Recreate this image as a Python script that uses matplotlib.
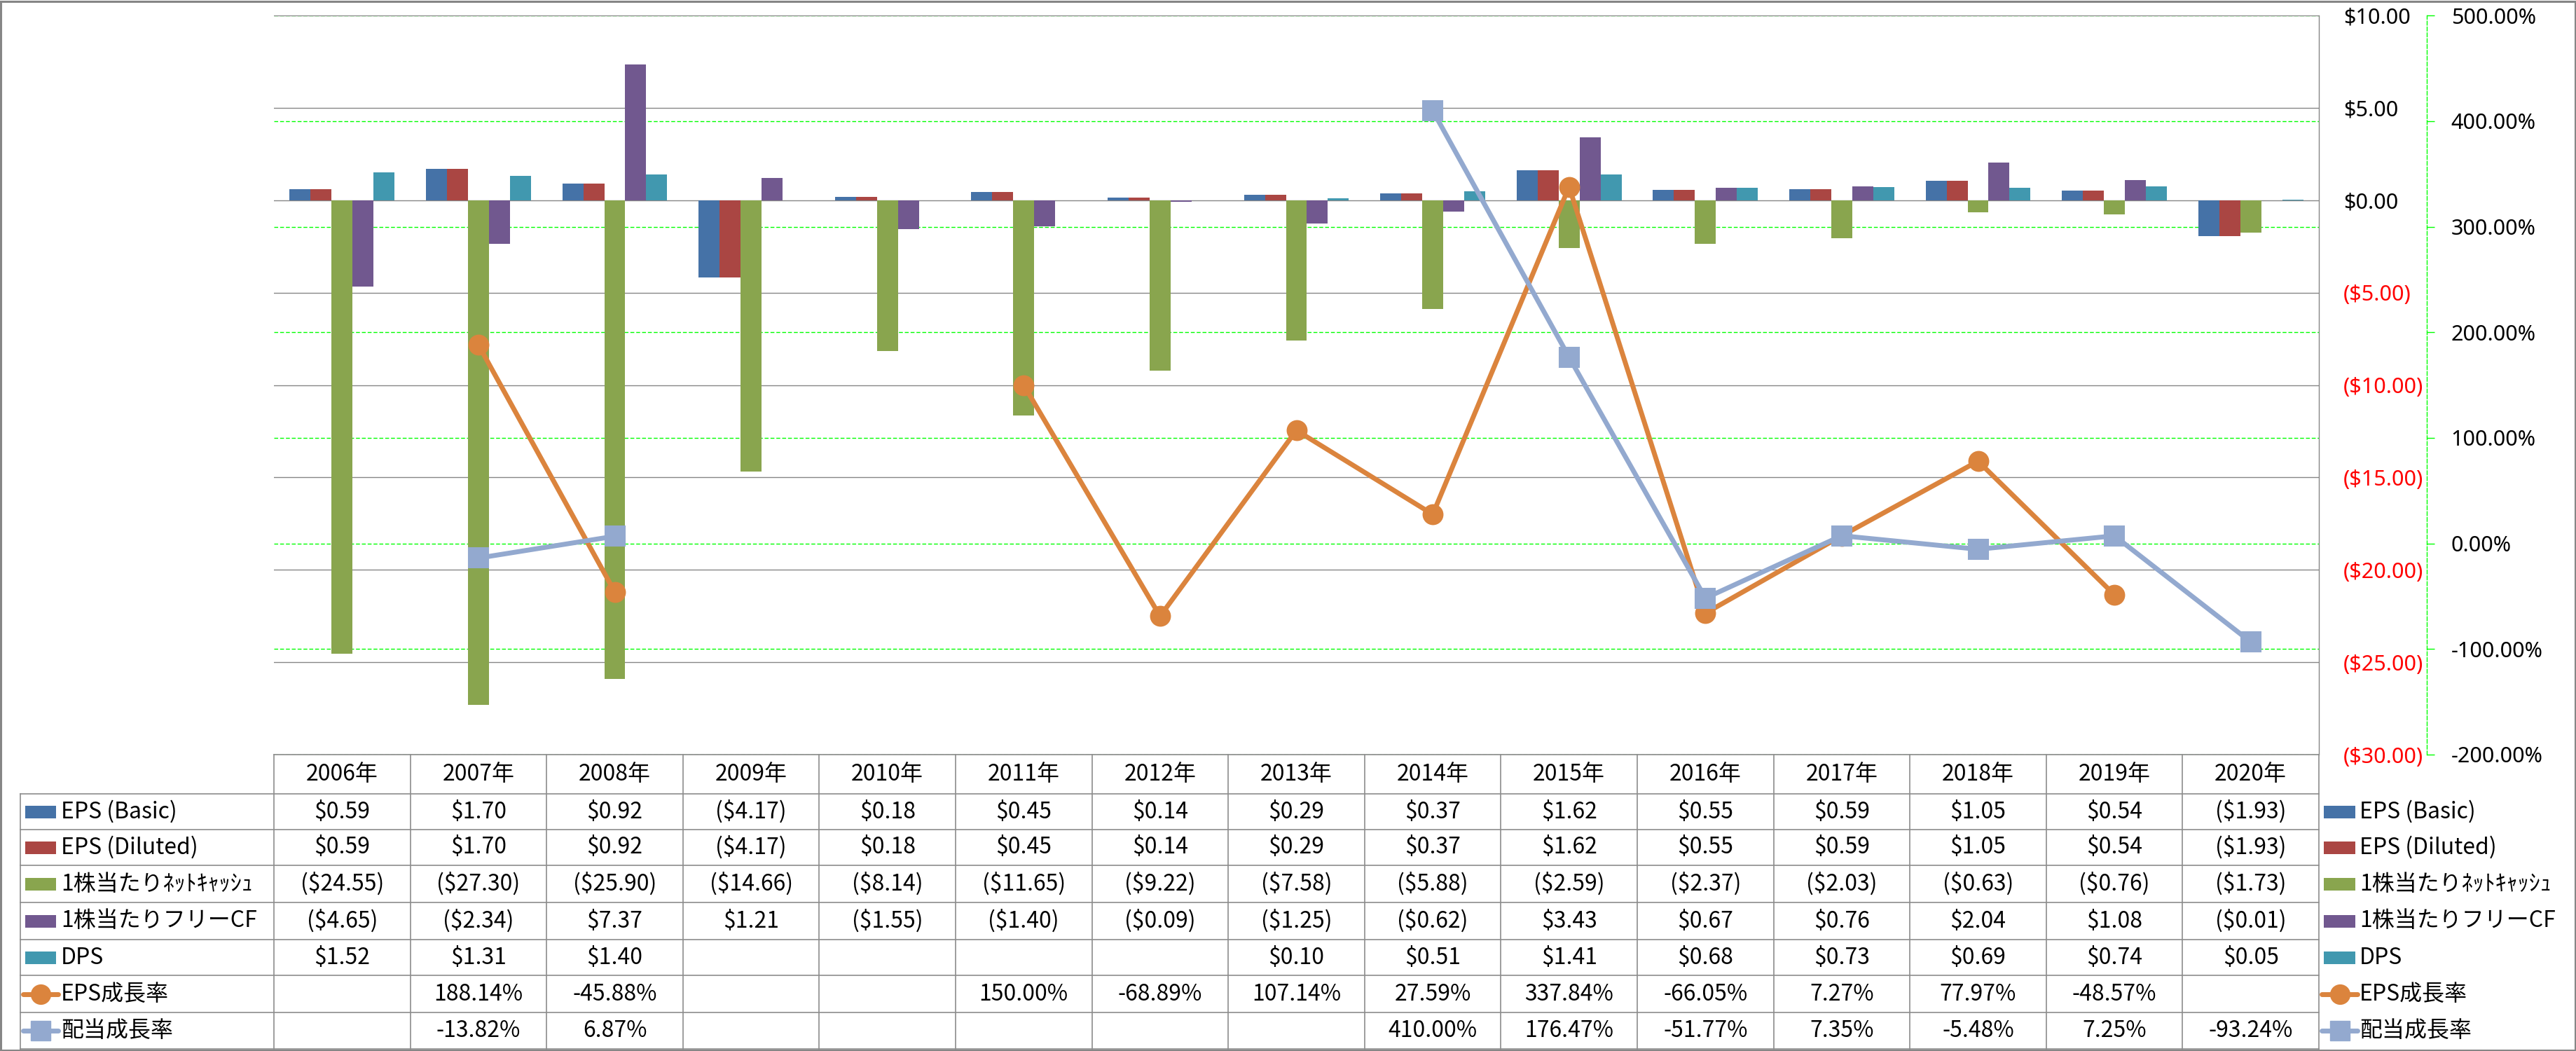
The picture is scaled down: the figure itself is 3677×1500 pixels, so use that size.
import numpy as np
import matplotlib
matplotlib.use('Agg')
import matplotlib.pyplot as plt
from matplotlib.transforms import blended_transform_factory
from matplotlib.patches import Rectangle

nan = np.nan

# ---------------- data ----------------
years = ['2006年', '2007年', '2008年', '2009年', '2010年', '2011年', '2012年', '2013年',
         '2014年', '2015年', '2016年', '2017年', '2018年', '2019年', '2020年']
eps_basic = [0.59, 1.70, 0.92, -4.17, 0.18, 0.45, 0.14, 0.29, 0.37, 1.62, 0.55, 0.59, 1.05, 0.54, -1.93]
eps_diluted = [0.59, 1.70, 0.92, -4.17, 0.18, 0.45, 0.14, 0.29, 0.37, 1.62, 0.55, 0.59, 1.05, 0.54, -1.93]
net_cash_ps = [-24.55, -27.30, -25.90, -14.66, -8.14, -11.65, -9.22, -7.58, -5.88, -2.59, -2.37, -2.03, -0.63, -0.76, -1.73]
fcf_ps = [-4.65, -2.34, 7.37, 1.21, -1.55, -1.40, -0.09, -1.25, -0.62, 3.43, 0.67, 0.76, 2.04, 1.08, -0.01]
dps = [1.52, 1.31, 1.40, nan, nan, nan, nan, 0.10, 0.51, 1.41, 0.68, 0.73, 0.69, 0.74, 0.05]
eps_growth = [nan, 188.14, -45.88, nan, nan, 150.00, -68.89, 107.14, 27.59, 337.84, -66.05, 7.27, 77.97, -48.57, nan]
div_growth = [nan, -13.82, 6.87, nan, nan, nan, nan, nan, 410.00, 176.47, -51.77, 7.35, -5.48, 7.25, -93.24]

bar_names = ['EPS (Basic)', 'EPS (Diluted)', '1株当たりﾈｯﾄｷｬｯｼｭ', '1株当たりフリーCF', 'DPS']
line_names = ['EPS成長率', '配当成長率']
usd_ticks = [-30, -25, -20, -15, -10, -5, 0, 5, 10]
pct_ticks = [-200, -100, 0, 100, 200, 300, 400, 500]

# ---------------- style ----------------
bar_colors = ['#4572A7', '#AA4643', '#89A54E', '#71588F', '#4198AF']
line_colors = ['#DB843D', '#93A9CF']
line_markers = ['o', 's']
grid_gray = '#868686'
green = '#00FF00'
red = '#FF0000'

plt.rcParams['font.family'] = ['Noto Sans', 'Noto Sans CJK JP', 'DejaVu Sans']
TF = ['Noto Sans CJK JP', 'DejaVu Sans']

W, H = 3677, 1500
fig = plt.figure(figsize=(W / 100, H / 100), dpi=100)


def fx(p):
    return p / W


def fy(p):
    return 1 - p / H


PL, PR, PT, PB = 391, 3310, 22.3, 1077
ax = fig.add_axes([fx(PL), fy(PB), fx(PR) - fx(PL), fy(PT) - fy(PB)])
n = len(years)
x = np.arange(n)
bw = 1 / 6.5
bar_series = [eps_basic, eps_diluted, net_cash_ps, fcf_ps, dps]
for i, (vals, c) in enumerate(zip(bar_series, bar_colors)):
    v = np.array(vals, dtype=float)
    m = ~np.isnan(v)
    ax.bar(x[m] + (i - 2) * bw, v[m], width=bw, color=c, zorder=2, linewidth=0)

ax2 = ax.twinx()
ax2.set_ylim(-200, 500)

# green dashed gridlines belonging to the secondary axis, drawn behind bars and gray grid
ax.hlines(pct_ticks, 0, 1, transform=blended_transform_factory(ax.transAxes, ax2.transData),
          colors=green, linestyles=(0, (4, 2)), linewidth=1, zorder=0.3)

ax.set_xlim(-0.5, n - 0.5)
ax.set_ylim(-30, 10)
ax.set_autoscale_on(False)
ax.set_xticks([])
ax.set_yticks(usd_ticks)
ax.yaxis.tick_right()
ax.set_yticklabels([f"${v:.2f}" if v >= 0 else f"(${-v:.2f})" for v in usd_ticks])
for lab, v in zip(ax.get_yticklabels(), usd_ticks):
    lab.set_color(red if v < 0 else 'black')
ax.tick_params(axis='y', length=0, pad=25, labelsize=22)
ax.grid(axis='y', color=grid_gray, linewidth=1)
ax.set_axisbelow(True)
for s in ['top', 'left', 'bottom']:
    ax.spines[s].set_visible(False)
ax.spines['right'].set_color(grid_gray)
ax.spines['right'].set_linewidth(1)

for vals, c, mk in zip([eps_growth, div_growth], line_colors, line_markers):
    ax2.plot(x, vals, color=c, lw=5, marker=mk, ms=20, mfc=c, mec=c, mew=1.5,
             solid_capstyle='round', zorder=3)
ax2.set_xlim(-0.5, n - 0.5)
ax2.set_ylim(-200, 500)
ax2.set_yticks(pct_ticks)
ax2.set_yticklabels([f"{v:.2f}%" for v in pct_ticks])
for lab, v in zip(ax2.get_yticklabels(), pct_ticks):
    lab.set_color(red if v < 0 else 'black')
ax2.yaxis.set_ticks_position('right')
ax2.tick_params(axis='y', length=8, width=1, color=green, pad=17, labelsize=22)
for s in ['top', 'left', 'bottom']:
    ax2.spines[s].set_visible(False)
ax2.spines['right'].set_position(('outward', 154 * 0.72))
ax2.spines['right'].set_color(green)
ax2.spines['right'].set_linestyle((0, (4, 2)))
ax2.spines['right'].set_linewidth(1)
ax2.grid(False)

# ---------------- data table ----------------
TL, TT, TB = 29, 1077, 1497
col_px = (PR - PL) / n
tax = fig.add_axes([fx(TL), fy(TB), fx(PR) - fx(TL), fy(TT) - fy(TB)])
xl = -0.5 - (PL - TL) / col_px
tax.set_xlim(xl, n - 0.5)
tax.set_ylim(TB, TT)
tax.axis('off')


def px2x(p):
    return -0.5 + (p - PL) / col_px


row_edges = [1077, 1133, 1184, 1235, 1288, 1341, 1392, 1445, 1497]
tcol = '#8C8C8C'
# horizontal lines
tax.plot([-0.5, n - 0.5], [row_edges[0]] * 2, color=tcol, lw=1.2, clip_on=False)
for y in row_edges[1:]:
    tax.plot([xl, n - 0.5], [y, y], color=tcol, lw=1.2, clip_on=False)
# vertical lines
for k in range(n + 1):
    tax.plot([k - 0.5, k - 0.5], [row_edges[0], row_edges[-1]], color=tcol, lw=1.2, clip_on=False)
tax.plot([xl, xl], [row_edges[1], row_edges[-1]], color=tcol, lw=1.2, clip_on=False)

FS = 23
hc = (row_edges[0] + row_edges[1]) / 2
for k, yr in enumerate(years):
    tax.text(k, hc, yr, ha='center', va='center', fontsize=FS, family=TF)


def money(v):
    if np.isnan(v):
        return ''
    return f"${v:.2f}" if v >= 0 else f"(${-v:.2f})"


def pct(v):
    if np.isnan(v):
        return ''
    return f"{v:.2f}%"


all_rows = [(nm, vals, money) for nm, vals in zip(bar_names, bar_series)] + \
           [(nm, vals, pct) for nm, vals in zip(line_names, [eps_growth, div_growth])]
for r, (nm, vals, fmt) in enumerate(all_rows):
    yc = (row_edges[r + 1] + row_edges[r + 2]) / 2
    for k, v in enumerate(vals):
        s = fmt(float(v))
        if s:
            tax.text(k, yc, s, ha='center', va='center', fontsize=FS, family=TF)
    # legend keys: left (inside table) and right (outside)
    for kx0, kx1, tx in [(36, 80, 87), (3317, 3362, 3368)]:
        if r < 5:
            tax.add_patch(Rectangle((px2x(kx0), yc - 9), px2x(kx1) - px2x(kx0), 18,
                                    color=bar_colors[r], clip_on=False, lw=0))
        else:
            c = line_colors[r - 5]
            tax.plot([px2x(kx0 - 3), px2x(kx1 + 3)], [yc, yc], color=c, lw=5,
                     solid_capstyle='round', clip_on=False)
            tax.plot([px2x((kx0 + kx1) / 2)], [yc], marker=line_markers[r - 5], ms=20,
                     color=c, mec=c, clip_on=False)
        tax.text(px2x(tx), yc, nm, ha='left', va='center', fontsize=FS, family=TF)

# outer chart frame
fig.add_artist(Rectangle((1 / W, 1.5 / H), 1 - 2.5 / W, 1 - 3 / H, transform=fig.transFigure,
                         fill=False, ec=grid_gray, lw=2.2))

fig.savefig('out.png', dpi=100)
